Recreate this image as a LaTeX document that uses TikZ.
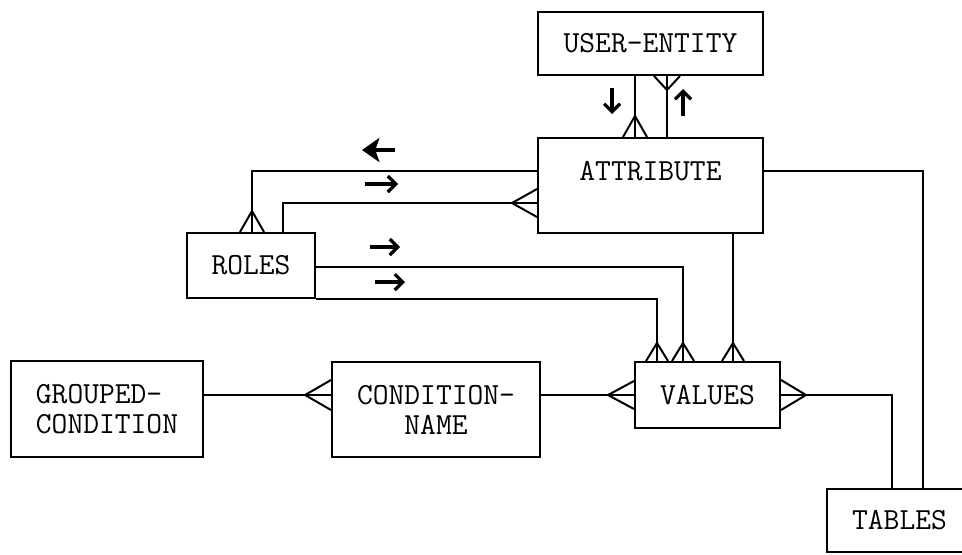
\documentclass[tikz,border=0pt]{standalone}
\usetikzlibrary{arrows.meta}
\tikzstyle{entity}=[
  draw,
  rectangle,
  inner sep=0pt,
  align=center,
  font=\fontsize{23}{22.5}\selectfont\ttfamily,
  ]
\tikzstyle{flow}=[ line width=2.4pt, -{Straight Barb[length=6pt,width=12pt]}, ]
\tikzstyle{heavy flow}=[ line width=3.6pt, -{Stealth[length=13pt,width=18pt,inset=3pt]}, ]
\tikzset{
  pics/foot/.style 2 args={code={\draw (-#2,0) -- (0,-#1) -- (#2,0);}},
}

\begin{document}
\begin{tikzpicture}[
    x=0.75pt, y=-0.75pt,
    line width=1.5pt,
    ]
    \useasboundingbox (0,0) rectangle (962,554);

    \node[entity, minimum width=168.75pt, minimum height=47.25pt] (ue) at (650.5,43.5) {USER-ENTITY};
    \node[entity, minimum width=168.75pt, minimum height=71.25pt] (attr) at (650.5,185.5) {ATTRIBUTE\\\mbox{}};
    \node[entity, minimum width=96pt, minimum height=48.75pt] (roles) at (251,265.5) {ROLES};
    \node[entity, align=left, minimum width=144pt, minimum height=72pt] (gc) at (107,409) {GROUPED-\\CONDITION};
    \node[entity, minimum width=156pt, minimum height=71.25pt] (cn) at (436,409.5) {CONDITION-\\NAME};
    \node[entity, minimum width=108.75pt, minimum height=49.5pt] (val) at (707.5,395) {VALUES};
    \node[entity, minimum width=108.75pt, minimum height=47.25pt] (tab) at (899.5,520.5) {TABLES};

    % where the lines run
    \coordinate (xa) at (635,0);
    \coordinate (xb) at (667,0);
    \coordinate (xc) at (252,0);
    \coordinate (xd) at (283,0);
    \coordinate (xe) at (683,0);
    \coordinate (xf) at (657,0);
    \coordinate (xg) at (733,0);
    \coordinate (xh) at (923,0);
    \coordinate (xi) at (892,0);
    \coordinate (ya) at (0,171);
    \coordinate (yb) at (0,203);
    \coordinate (yc) at (0,267);

    % user-entity and attribute
    \draw (ue.south -| xa) -- (attr.north -| xa);
    \pic at (attr.north -| xa) {foot={21}{12}};
    \draw (ue.south -| xb) -- (attr.north -| xb);
    \pic[rotate=180] at (ue.south -| xb) {foot={14}{13}};
    \draw[flow] (612,88) -- (612,114);
    \draw[flow] (683,116) -- (683,89);

    % attribute and roles
    \draw (attr.west |- ya) -| (roles.north -| xc);
    \pic at (roles.north -| xc) {foot={21}{12}};
    \draw (roles.north -| xd) |- (attr.west |- yb);
    \pic[rotate=90] at (attr.west |- yb) {foot={25}{14}};
    \draw[heavy flow] (395,150) -- (362,150);
    \draw[flow] (365,184) -- (398,184);

    % into values
    \draw (roles.east |- yc) -| (val.north -| xe);
    \pic at (val.north -| xe) {foot={18}{11}};
    \draw (roles.south east) -| (val.north -| xf);
    \pic at (val.north -| xf) {foot={18}{11}};
    \draw (attr.south -| xg) -- (val.north -| xg);
    \pic at (val.north -| xg) {foot={18}{11}};
    \draw[flow] (370,247) -- (400,247);
    \draw[flow] (375,282) -- (405,282);

    % tables
    \draw (attr.east |- ya) -| (tab.north -| xh);
    \draw (val.east) -| (tab.north -| xi);
    \pic[rotate=-90] at (val.east) {foot={25}{15}};

    % conditions
    \draw (cn.east |- val.west) -- (val.west);
    \pic[rotate=90] at (val.west) {foot={26}{14}};
    \draw (gc.east |- val.west) -- (cn.west |- val.west);
    \pic[rotate=90] at (cn.west |- val.west) {foot={26}{15}};
  \end{tikzpicture}
\end{document}
